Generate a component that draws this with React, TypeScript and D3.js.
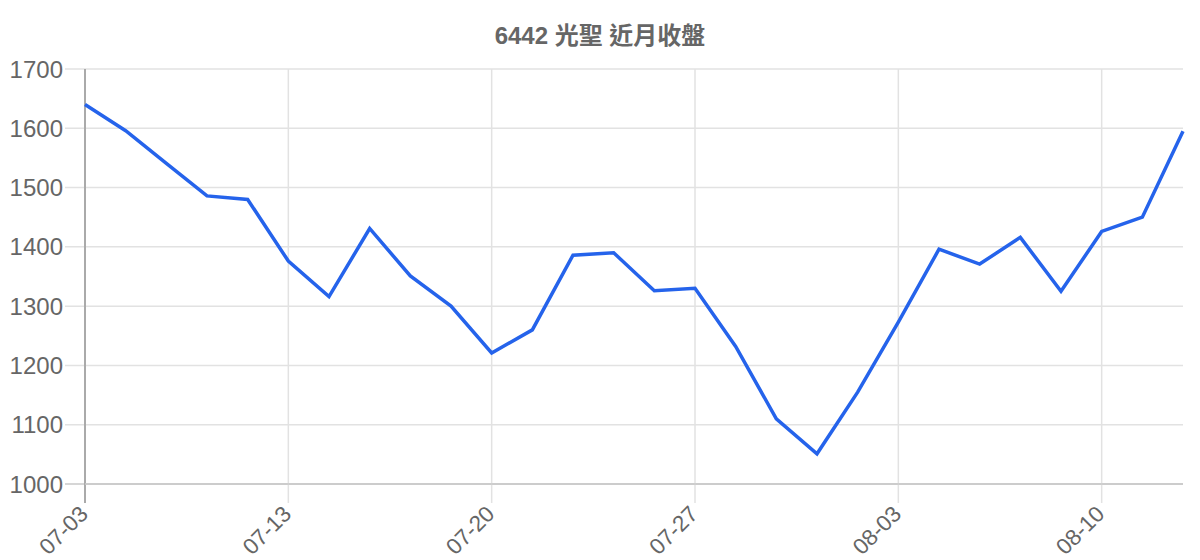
import { scaleLinear, scalePoint, line as d3line } from "d3";

const DATES = [
  "07-03", "07-05", "07-07", "07-10", "07-12",
  "07-13", "07-14", "07-17", "07-18", "07-19",
  "07-20", "07-21", "07-24", "07-25", "07-26",
  "07-27", "07-28", "07-31", "08-01", "08-02",
  "08-03", "08-04", "08-07", "08-08", "08-09",
  "08-10", "08-11", "08-14",
];
const CLOSE = [
  1640, 1596, 1541, 1486, 1480,
  1376, 1316, 1431, 1351, 1300,
  1221, 1260, 1386, 1390, 1326,
  1330, 1232, 1110, 1051, 1155,
  1273, 1396, 1371, 1416, 1325,
  1426, 1450, 1595,
];
const Y_TICKS = [1000, 1100, 1200, 1300, 1400, 1500, 1600, 1700];
const TITLE = "6442 光聖 近月收盤";

const W = 1200, H = 560;
const M = { top: 69, right: 17, bottom: 76, left: 85 };
const FONT = "'Liberation Sans', Arial, 'Noto Sans CJK TC', sans-serif";

export default function App() {
  const x = scalePoint<string>().domain(DATES).range([M.left, W - M.right]);
  const y = scaleLinear().domain([1000, 1700]).range([H - M.bottom, M.top]);
  const labeled = DATES.filter((_, i) => i % 5 === 0);
  const pathD = d3line<number>().x((_, i) => x(DATES[i]) ?? 0).y(d => y(d))(CLOSE);
  const x0 = M.left, x1 = W - M.right, yb = H - M.bottom;
  return (
    <svg width={W} height={H} style={{ position: "absolute", left: 0, top: 0, fontFamily: FONT }}>
      <rect width={W} height={H} fill="#fff" />
      <text x={600} y={35} textAnchor="middle" dominantBaseline="central"
        fontSize={24} fontWeight="bold" fill="#666">{TITLE}</text>
      {Y_TICKS.map(t => (
        <g key={t}>
          <line x1={65} x2={x1} y1={y(t)} y2={y(t)} stroke={t === 1000 ? "#c8c8c8" : "#e2e2e2"} strokeWidth={1.5} />
          <text x={63} y={y(t)} textAnchor="end" dominantBaseline="central" fontSize={24} fill="#666">{t}</text>
        </g>
      ))}
      {labeled.map(d => (
        <g key={d}>
          <line x1={x(d)} x2={x(d)} y1={M.top} y2={503} stroke="#e2e2e2" strokeWidth={1.5} />
          <text transform={`translate(${(x(d) ?? 0) - 1},${510}) rotate(-45)`} textAnchor="end"
            dominantBaseline="central" fontSize={22.5} fill="#666">{d}</text>
        </g>
      ))}
      <line x1={x0} x2={x0} y1={M.top} y2={503} stroke="#aaa" strokeWidth={2} />
      <line x1={x0} x2={x1} y1={yb} y2={yb} stroke="#c8c8c8" strokeWidth={1.5} />
      <path d={pathD ?? ""} fill="none" stroke="#2563eb" strokeWidth={3.5} strokeLinejoin="miter" />
    </svg>
  );
}
